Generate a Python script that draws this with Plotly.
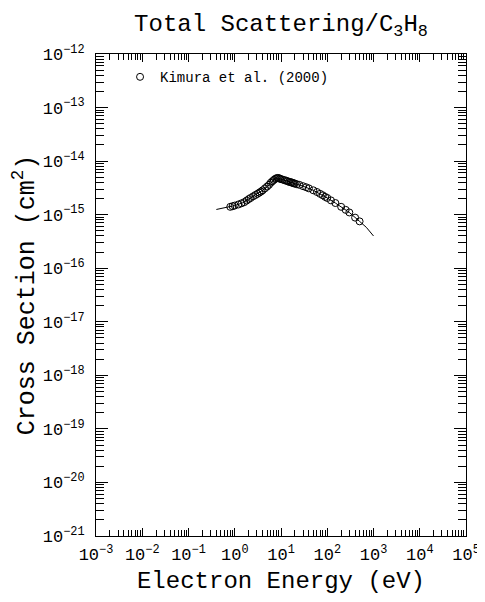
import plotly.graph_objects as go

# Kimura et al. (2000) measured total scattering cross sections (eV, 1e-16 cm^2)
kimura_energy = [0.8, 0.9, 1.0, 1.2, 1.4, 1.6, 1.8, 2.0, 2.2, 2.5, 2.8, 3.1, 3.4, 3.7,
                 4.0, 4.5, 5.0, 5.5, 6.0, 6.5, 7.0, 7.5, 8.0, 8.5, 9.0, 9.5, 10, 11,
                 12, 13, 14, 15, 16, 17, 18, 19, 20, 22, 25, 30, 35, 40, 50, 60, 70,
                 80, 90, 100, 120, 150, 200, 250, 300, 400, 500]
kimura_sigma = [14.0, 14.4, 14.8, 15.5, 16.3, 17.1, 18.3, 19.5, 20.5, 22.0, 23.3, 24.5,
                25.8, 27.0, 28.5, 31.0, 33.5, 36.0, 39.5, 42.0, 44.5, 46.5, 48.0, 48.5,
                48.0, 47.0, 46.0, 45.0, 44.0, 43.0, 42.0, 41.0, 40.5, 40.0, 39.0, 38.5,
                38.0, 37.0, 36.0, 34.0, 32.5, 31.0, 28.5, 26.5, 24.5, 23.0, 21.5, 20.5,
                18.5, 16.5, 14.0, 12.3, 11.0, 8.8, 7.5]

# Recommended curve (eV, 1e-16 cm^2)
curve_energy = [0.4, 0.5, 0.6, 0.8, 1.0, 1.5, 2.0, 3.0, 4.0, 5.0, 6.0, 7.0, 8.0, 9.0,
                10, 12, 15, 20, 30, 50, 70, 100, 150, 200, 300, 500, 700, 1000]
curve_sigma = [12.5, 13.0, 13.4, 14.0, 14.8, 16.7, 19.5, 24.0, 28.5, 33.5, 39.5, 44.5,
               48.0, 48.0, 46.0, 44.0, 41.0, 38.0, 34.0, 28.5, 24.5, 20.5, 16.5, 14.0,
               11.0, 7.5, 5.8, 4.0]

x_exponents = [-3, -2, -1, 0, 1, 2, 3, 4, 5]
y_exponents = [-21, -20, -19, -18, -17, -16, -15, -14, -13, -12]

x_tickvals = [10.0 ** e for e in x_exponents]
y_tickvals = [10.0 ** e for e in y_exponents]
x_ticktext = ["10<sup>%s</sup>" % str(e).replace("-", "\u2212") for e in x_exponents]
y_ticktext = ["10<sup>%s</sup>" % str(e).replace("-", "\u2212") for e in y_exponents]

FONT = "Liberation Mono"

fig = go.Figure()
fig.add_trace(go.Scatter(
    x=curve_energy, y=[v * 1e-16 for v in curve_sigma], mode="lines",
    line=dict(color="black", width=1), showlegend=False))
fig.add_trace(go.Scatter(
    x=kimura_energy, y=[v * 1e-16 for v in kimura_sigma], mode="markers",
    name="Kimura et al. (2000)",
    marker=dict(symbol="circle-open", size=7, color="black", line=dict(width=1))))

axis_common = dict(
    type="log", showline=True, linecolor="black", linewidth=1, mirror="ticks",
    ticks="inside", tickcolor="black", showgrid=False, zeroline=False, automargin=False,
    tickfont=dict(family=FONT, size=17, color="black"),
)

fig.update_xaxes(
    **axis_common, range=[-3, 5], tickvals=x_tickvals, ticktext=x_ticktext, ticklen=8,
    ticklabelstandoff=3,
    minor=dict(ticks="inside", ticklen=6, tickcolor="black", dtick="D1", showgrid=False),
    title=dict(text="Electron Energy (eV)", font=dict(family=FONT, size=24, color="black"),
               standoff=6),
)
fig.update_yaxes(
    **axis_common, range=[-21, -12], tickvals=y_tickvals, ticktext=y_ticktext, ticklen=12,
    ticklabelstandoff=7,
    minor=dict(ticks="inside", ticklen=8, tickcolor="black", dtick="D1", showgrid=False),
    title=dict(text="Cross Section (cm<sup>2</sup>)",
               font=dict(family=FONT, size=25, color="black"), standoff=4),
)

# the page body adds an 8px offset; size and margins compensate for it
fig.update_layout(
    width=477, height=594,
    margin=dict(l=88, r=19, t=46, b=66),
    paper_bgcolor="white", plot_bgcolor="white",
    title=dict(text="Total Scattering/C<sub>3</sub>H<sub>8</sub>",
               font=dict(family=FONT, size=24, color="black"),
               x=(88 + 370 / 2) / 477, xanchor="center", y=1 - 15 / 594, yanchor="middle"),
    legend=dict(x=0.065, y=0.985, xanchor="left", yanchor="top",
                bgcolor="rgba(0,0,0,0)", font=dict(family=FONT, size=14, color="black")),
)

fig.write_html("out.html")
